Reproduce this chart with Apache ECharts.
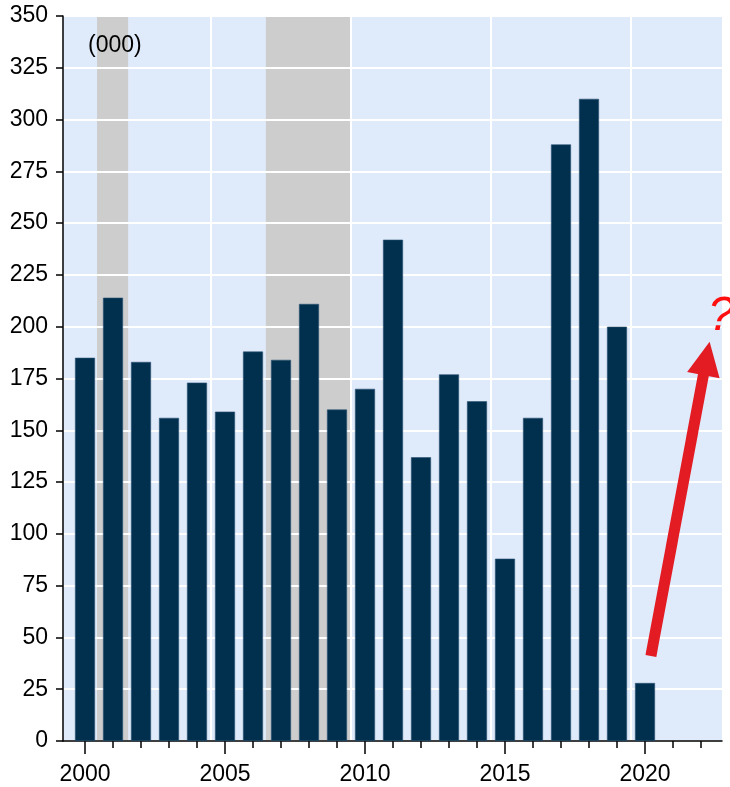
<!DOCTYPE html>
<html><head><meta charset="utf-8">
<script src="https://cdn.jsdelivr.net/npm/echarts@6/dist/echarts.min.js"></script>
<style>html,body{margin:0;padding:0;background:#fff}#c{width:730px;height:787px}</style>
</head><body><div id="c"></div>
<script>
// ---- data ----
const years = [2000,2001,2002,2003,2004,2005,2006,2007,2008,2009,2010,2011,2012,2013,2014,2015,2016,2017,2018,2019,2020];
const values = [185,214,183,156,173,159,188,184,211,160,170,242,137,177,164,88,156,288,310,200,28];
const yMin = 0, yMax = 350, yStep = 25;
const xMin = 1999.214, xMax = 2022.75;
const xLabelYears = [2000,2005,2010,2015,2020];
const xTickYears = [2000,2001,2002,2003,2004,2005,2006,2007,2008,2009,2010,2011,2012,2013,2014,2015,2016,2017,2018,2019,2020,2021,2022];
const xGridYears = [2004.5,2009.5,2014.5,2019.5];
const recessions = [[2000.43,2001.54],[2006.46,2009.5]];
const arrowFrom = [2020.21, 41];
const arrowTo = [2022.196, 184.7];
const unitLabel = '(000)';
const questionMark = '?';

const FONT = 'Liberation Sans, Arial, sans-serif';
const chart = echarts.init(document.getElementById('c'), null, {renderer:'canvas'});
const baseX = {type:'value', min:xMin, max:xMax, gridIndex:0};
chart.setOption({
  animation:false,
  grid:{left:63, right:8, top:16, bottom:46, show:true, backgroundColor:'#dfeafb', borderWidth:0, containLabel:false},
  xAxis:[
    Object.assign({}, baseX, {
      position:'bottom', z:4,
      axisLine:{show:true, onZero:false, lineStyle:{color:'#000', width:1.5}},
      axisTick:{show:true, length:7, customValues:xTickYears, lineStyle:{color:'#000', width:1.5}},
      axisLabel:{show:true, customValues:xLabelYears, fontSize:23, fontFamily:FONT, color:'#000', margin:22, formatter:v=>String(Math.round(v))},
      splitLine:{show:false}
    }),
    Object.assign({}, baseX, {
      position:'bottom', z:4,
      axisLine:{show:false},
      axisTick:{show:true, length:13, customValues:xLabelYears, lineStyle:{color:'#000', width:1.5}},
      axisLabel:{show:false},
      splitLine:{show:false}
    }),
    Object.assign({}, baseX, {
      position:'top', z:3,
      axisLine:{show:false},
      axisTick:{show:false, customValues:xGridYears},
      axisLabel:{show:false},
      splitLine:{show:true, lineStyle:{color:'#ffffff', width:2}}
    })
  ],
  yAxis:{
    type:'value', min:yMin, max:yMax, interval:yStep, z:3,
    axisLine:{show:true, lineStyle:{color:'#000', width:1.5}},
    axisTick:{show:true, length:7, lineStyle:{color:'#000', width:1.5}},
    axisLabel:{fontSize:23, fontFamily:FONT, color:'#000', margin:15},
    splitLine:{show:true, lineStyle:{color:'#ffffff', width:2}}
  },
  series:[
    {
      type:'line', data:[], xAxisIndex:0, z:1, silent:true,
      markArea:{silent:true, itemStyle:{color:'#cdcdcd'},
        data: recessions.map(r=>[{xAxis:r[0]},{xAxis:r[1]}])}
    },
    {
      type:'bar', xAxisIndex:0, z:5, barWidth:20,
      data: years.map((y,i)=>[y, values[i]]),
      itemStyle:{color:'#00304d', borderColor:'#2c5274', borderWidth:0.6}
    },
    {
      type:'line', data:[], xAxisIndex:0, z:6, silent:true,
      markLine:{silent:true, symbol:['none','triangle'], symbolSize:[33,34],
        lineStyle:{color:'#e31b23', width:11, type:'solid', cap:'butt'},
        itemStyle:{color:'#e31b23'},
        label:{show:false},
        data:[[{coord:arrowFrom},{coord:arrowTo}]]}
    }
  ],
  graphic:[
    {type:'text', left:88, top:34, z:10, style:{text:unitLabel, fontSize:23, fontFamily:FONT, fill:'#000'}},
    {type:'text', left:708, top:293, z:10, style:{text:questionMark, fontSize:48, fontStyle:'italic', fontFamily:FONT, fill:'#ff1010'}}
  ]
});
</script>
</body></html>
